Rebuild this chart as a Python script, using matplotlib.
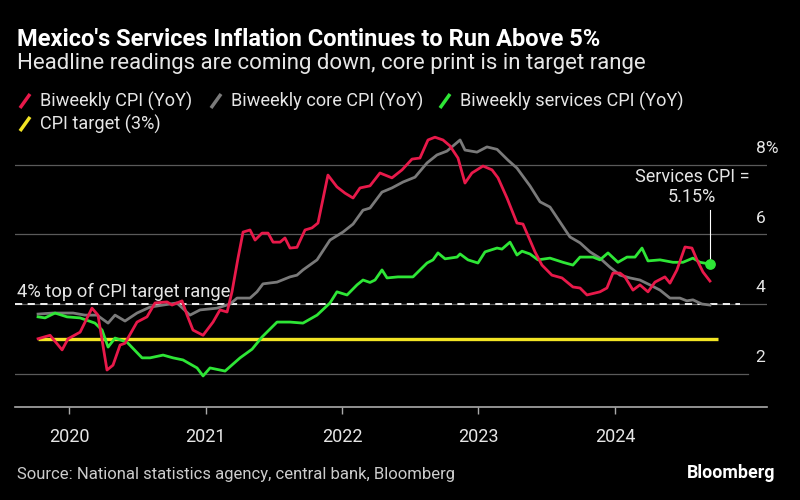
import matplotlib.pyplot as plt
from matplotlib.lines import Line2D

plt.rcParams['font.family'] = ['Roboto', 'DejaVu Sans']

# dates as decimal years, values in % YoY
cpi_t = [2019.773, 2019.861, 2019.949, 2019.993, 2020.081, 2020.168, 2020.212, 2020.278, 2020.322,
         2020.374, 2020.410, 2020.498, 2020.571, 2020.630, 2020.718, 2020.755, 2020.828, 2020.865,
         2020.908, 2020.982, 2021.055, 2021.106, 2021.158, 2021.194, 2021.238, 2021.275, 2021.326,
         2021.363, 2021.414, 2021.458, 2021.495, 2021.546, 2021.582, 2021.619, 2021.670, 2021.729,
         2021.780, 2021.824, 2021.897, 2021.963, 2022.022, 2022.081, 2022.132, 2022.205, 2022.278,
         2022.366, 2022.440, 2022.513, 2022.571, 2022.630, 2022.681, 2022.740, 2022.791, 2022.850,
         2022.901, 2022.952, 2023.033, 2023.099, 2023.143, 2023.209, 2023.282, 2023.326, 2023.377,
         2023.414, 2023.465, 2023.538, 2023.612, 2023.692, 2023.744, 2023.795, 2023.890, 2023.941,
         2023.985, 2024.037, 2024.073, 2024.132, 2024.183, 2024.242, 2024.293, 2024.366, 2024.403,
         2024.454, 2024.513, 2024.564, 2024.601, 2024.645, 2024.696]
cpi = [3.00, 3.10, 2.68, 3.00, 3.19, 3.88, 3.68, 2.10, 2.24,
       2.82, 2.87, 3.48, 3.63, 4.03, 4.06, 3.97, 4.09, 3.68,
       3.25, 3.10, 3.48, 3.83, 3.77, 4.35, 5.32, 6.07, 6.13,
       5.84, 6.04, 6.04, 5.78, 5.78, 5.90, 5.61, 5.63, 6.13,
       6.19, 6.33, 7.71, 7.37, 7.19, 7.05, 7.34, 7.40, 7.77,
       7.63, 7.86, 8.17, 8.20, 8.72, 8.80, 8.72, 8.55, 8.20,
       7.48, 7.77, 7.97, 7.86, 7.63, 7.05, 6.33, 6.30, 5.84,
       5.50, 5.12, 4.83, 4.75, 4.49, 4.46, 4.26, 4.35, 4.46,
       4.89, 4.89, 4.78, 4.40, 4.55, 4.35, 4.63, 4.78, 4.60,
       4.98, 5.64, 5.61, 5.27, 4.92, 4.66]

core_t = [2019.773, 2019.883, 2020.029, 2020.117, 2020.205, 2020.286, 2020.337, 2020.410, 2020.498,
          2020.593, 2020.689, 2020.791, 2020.886, 2020.960, 2021.084, 2021.180, 2021.231, 2021.326,
          2021.377, 2021.421, 2021.524, 2021.619, 2021.670, 2021.714, 2021.817, 2021.912, 2022.007,
          2022.081, 2022.154, 2022.205, 2022.293, 2022.366, 2022.447, 2022.535, 2022.623, 2022.696,
          2022.769, 2022.865, 2022.901, 2022.989, 2023.062, 2023.136, 2023.216, 2023.282, 2023.377,
          2023.451, 2023.524, 2023.597, 2023.670, 2023.744, 2023.817, 2023.890, 2023.963, 2024.037,
          2024.110, 2024.183, 2024.256, 2024.330, 2024.403, 2024.476, 2024.527, 2024.571, 2024.637,
          2024.696]
core = [3.71, 3.74, 3.74, 3.68, 3.68, 3.45, 3.68, 3.51, 3.74,
        3.91, 3.97, 4.03, 3.68, 3.83, 3.88, 4.00, 4.17, 4.17,
        4.35, 4.58, 4.63, 4.78, 4.83, 4.98, 5.27, 5.84, 6.07,
        6.30, 6.70, 6.76, 7.22, 7.34, 7.51, 7.65, 8.06, 8.29,
        8.40, 8.72, 8.43, 8.37, 8.52, 8.45, 8.14, 7.91, 7.40,
        6.94, 6.79, 6.36, 5.93, 5.76, 5.50, 5.32, 5.06, 4.83,
        4.75, 4.69, 4.55, 4.40, 4.17, 4.17, 4.09, 4.12, 4.00,
        3.97]

serv_t = [2019.773, 2019.824, 2019.897, 2019.985, 2020.081, 2020.190, 2020.242, 2020.286, 2020.337,
          2020.425, 2020.535, 2020.593, 2020.689, 2020.762, 2020.835, 2020.938, 2020.982, 2021.033,
          2021.143, 2021.253, 2021.341, 2021.414, 2021.524, 2021.619, 2021.714, 2021.817, 2021.912,
          2021.963, 2022.037, 2022.110, 2022.154, 2022.205, 2022.242, 2022.293, 2022.330, 2022.410,
          2022.520, 2022.623, 2022.667, 2022.703, 2022.755, 2022.843, 2022.865, 2022.923, 2022.996,
          2023.048, 2023.136, 2023.172, 2023.231, 2023.282, 2023.319, 2023.377, 2023.436, 2023.524,
          2023.619, 2023.692, 2023.744, 2023.839, 2023.890, 2023.949, 2024.022, 2024.088, 2024.147,
          2024.198, 2024.242, 2024.330, 2024.425, 2024.498, 2024.571, 2024.623, 2024.696]
serv = [3.63, 3.60, 3.74, 3.63, 3.60, 3.45, 3.25, 2.76, 3.02,
        2.90, 2.45, 2.45, 2.53, 2.45, 2.39, 2.16, 1.93, 2.16,
        2.07, 2.45, 2.70, 3.05, 3.48, 3.48, 3.45, 3.68, 4.03,
        4.35, 4.26, 4.55, 4.69, 4.62, 4.69, 4.98, 4.75, 4.78,
        4.78, 5.18, 5.27, 5.47, 5.30, 5.35, 5.44, 5.27, 5.18,
        5.50, 5.61, 5.58, 5.78, 5.41, 5.52, 5.44, 5.27, 5.32,
        5.20, 5.12, 5.35, 5.35, 5.27, 5.47, 5.20, 5.35, 5.35,
        5.61, 5.24, 5.27, 5.20, 5.20, 5.32, 5.20, 5.15]

target = 3.0
target_t = [2019.773, 2024.755]
range_top = 4.0
years = [2020, 2021, 2022, 2023, 2024]
y_grid = [2, 4, 6, 8]
y_labels = ['2', '4', '6', '8%']

RED = '#e8194a'
GRAY = '#7a7a7a'
GREEN = '#2ee636'
YELLOW = '#f2e424'

fig = plt.figure(figsize=(8, 5), dpi=100, facecolor='black')
ax = fig.add_axes([15/800, 1-407/500, 752/800, 277/500])
ax.set_facecolor('black')
ax.set_xlim(2019.604, 2025.114)
ax.set_ylim(1.036, 9.007)

for v in y_grid:
    ax.axhline(v, color='#5a5a5a', lw=0.9, xmax=0.975 if v == 2 else 1, zorder=1)
    ax.text(0.985, v + 0.47, y_labels[y_grid.index(v)], transform=ax.get_yaxis_transform(),
            color='#e6e6e6', fontsize=12.5, ha='left', va='center')

ax.plot(target_t, [target, target], color=YELLOW, lw=2.4, solid_capstyle='butt', zorder=2)
ax.plot([2019.604, 2024.919], [range_top, range_top], color='white', lw=1.3,
        dashes=(4, 3), zorder=2)
ax.text(2019.618, range_top + 0.36, '4% top of CPI target range', color='#e6e6e6',
        fontsize=13.2, ha='left', va='center')

ax.plot(core_t, core, color=GRAY, lw=2, zorder=3)
ax.plot(serv_t, serv, color=GREEN, lw=2, zorder=4)
ax.plot(cpi_t, cpi, color=RED, lw=2, zorder=5)

ax.scatter([serv_t[-1]], [serv[-1]], s=45, color=GREEN, zorder=6)
ax.plot([serv_t[-1], serv_t[-1]], [serv[-1] + 0.15, serv[-1] + 1.55], color='white', lw=0.8)
ax.text(serv_t[-1] - 0.13, serv[-1] + 2.22, 'Services CPI =\n5.15%', color='#e6e6e6',
        fontsize=13, ha='center', va='center', linespacing=1.1)

for s in ['top', 'left', 'right']:
    ax.spines[s].set_visible(False)
ax.spines['bottom'].set_color('#aaaaaa')
ax.spines['bottom'].set_linewidth(1.2)
ax.set_yticks([])
ax.set_xticks(years)
ax.set_xticklabels([str(y) for y in years])
ax.tick_params(axis='x', colors='#aaaaaa', labelcolor='#e6e6e6', labelsize=13,
               length=5, width=1, pad=10)

fig.text(17/800, 1-39/500, "Mexico's Services Inflation Continues to Run Above 5%",
         color='white', fontsize=17, fontweight='bold', ha='left', va='center')
fig.text(17/800, 1-63/500, 'Headline readings are coming down, core print is in target range',
         color='#e6e6e6', fontsize=16, ha='left', va='center')

legend = [('Biweekly CPI (YoY)', RED, 18, 101), ('Biweekly core CPI (YoY)', GRAY, 209, 101),
          ('Biweekly services CPI (YoY)', GREEN, 438, 101), ('CPI target (3%)', YELLOW, 18, 124)]
for label, c, x, y in legend:
    fig.add_artist(Line2D([(x + 2)/800, (x + 12)/800], [1-(y + 7)/500, 1-(y - 7)/500],
                          color=c, lw=2.5, solid_capstyle='butt'))
    fig.text((x + 22)/800, 1-y/500, label, color='#e6e6e6', fontsize=13.1,
             ha='left', va='center')

fig.text(17/800, 1-474/500, 'Source: National statistics agency, central bank, Bloomberg',
         color='#cccccc', fontsize=12, ha='left', va='center')
fig.text(775/800, 1-473/500, 'Bloomberg', color='white', fontsize=12.8, fontweight='bold',
         ha='right', va='center')

fig.savefig('out.png', dpi=100, facecolor='black')
